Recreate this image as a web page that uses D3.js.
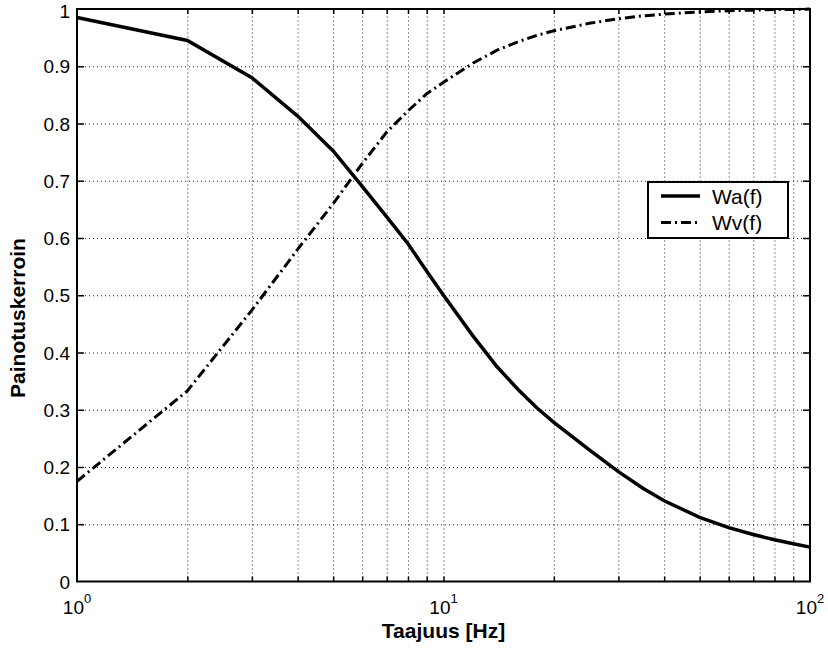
<!DOCTYPE html>
<meta charset="utf-8">
<head>
<style>
  body { margin: 0; background: #fff; }
  text { font-family: "Liberation Sans", Arial, sans-serif; fill: #000; }
  .grid line { stroke: #222; stroke-width: 1; stroke-dasharray: 1,3; }
  .grid path { display: none; }
</style>
</head>
<body>
  <script src="https://d3js.org/d3.v7.min.js"></script>
  <script>
    // frequencies [Hz] and the two weighting curves
    var freqs = [1, 2, 3, 4, 5, 6, 7, 8, 9, 10, 12, 14, 16, 18, 20, 25, 30, 35, 40, 50, 60, 70, 80, 90, 100];
    var wa = [0.985, 0.945, 0.88, 0.813, 0.752, 0.69, 0.637, 0.59, 0.542, 0.5, 0.43, 0.375, 0.335, 0.303, 0.278, 0.23, 0.192, 0.163, 0.141, 0.112, 0.094, 0.082, 0.073, 0.066, 0.06];
    var wv = [0.175, 0.333, 0.474, 0.58, 0.66, 0.73, 0.785, 0.822, 0.852, 0.872, 0.905, 0.928, 0.943, 0.954, 0.962, 0.975, 0.983, 0.988, 0.991, 0.995, 0.997, 0.998, 0.999, 0.999, 1.0];

    var seriesNames = ["Wa(f)", "Wv(f)"];
    var yTicks = [0, 0.1, 0.2, 0.3, 0.4, 0.5, 0.6, 0.7, 0.8, 0.9, 1];
    var yTickLabels = ["0", "0.1", "0.2", "0.3", "0.4", "0.5", "0.6", "0.7", "0.8", "0.9", "1"];
    var xMajor = [1, 10, 100];
    var xMajorExp = ["0", "1", "2"];
    var xLabel = "Taajuus [Hz]";
    var yLabel = "Painotuskerroin";

    var width = 828, height = 651;
    var margin = { top: 9, right: 18, bottom: 69.5, left: 77 };
    var w = width - margin.left - margin.right,
      h = height - margin.top - margin.bottom;

    var svg = d3.select("body").append("svg")
      .attr("width", width)
      .attr("height", height);

    svg.append("rect").attr("width", width).attr("height", height).attr("fill", "#fff");

    var g = svg.append("g")
      .attr("transform", "translate(" + margin.left + "," + margin.top + ")");

    var x = d3.scaleLog().domain([1, 100]).range([0, w]);
    var y = d3.scaleLinear().domain([0, 1]).range([h, 0]);

    // all log ticks 1..9 per decade
    var xAll = [];
    [1, 10].forEach(function (dec) {
      for (var k = 1; k <= 9; k++) xAll.push(dec * k);
    });
    xAll.push(100);
    var xInner = xAll.filter(function (v) { return v > 1 && v < 100; });
    var yInner = yTicks.filter(function (v) { return v > 0 && v < 1; });

    // dotted grid
    g.append("g").attr("class", "grid")
      .attr("transform", "translate(0," + h + ")")
      .call(d3.axisBottom(x).tickValues(xInner).tickSize(-h).tickFormat(""));
    g.append("g").attr("class", "grid")
      .call(d3.axisLeft(y).tickValues(yInner).tickSize(-w).tickFormat(""));

    // inward ticks on all four sides
    function tickStyle(sel) {
      sel.select(".domain").remove();
      sel.selectAll("line").attr("stroke", "#000").attr("stroke-width", 1.5);
    }
    g.append("g").attr("transform", "translate(0," + h + ")")
      .call(d3.axisBottom(x).tickValues(xInner).tickSize(-5).tickFormat(""))
      .call(tickStyle);
    g.append("g")
      .call(d3.axisTop(x).tickValues(xInner).tickSize(-5).tickFormat(""))
      .call(tickStyle);
    g.append("g")
      .call(d3.axisLeft(y).tickValues(yInner).tickSize(-7).tickFormat(""))
      .call(tickStyle);
    g.append("g").attr("transform", "translate(" + w + ",0)")
      .call(d3.axisRight(y).tickValues(yInner).tickSize(-7).tickFormat(""))
      .call(tickStyle);

    // y tick labels (top one kept inside the page)
    g.selectAll(".ylab")
      .data(yTicks)
      .enter().append("text")
      .attr("class", "ylab")
      .attr("x", -7)
      .attr("y", function (d) { return Math.max(y(d) + 7, 9); })
      .attr("text-anchor", "end")
      .style("font-size", "19px")
      .text(function (d, i) { return yTickLabels[i]; });

    // x tick labels 10^n
    var xl = g.selectAll(".xlab")
      .data(xMajor)
      .enter().append("text")
      .attr("class", "xlab")
      .attr("x", function (d) { return x(d); })
      .attr("y", h + 32)
      .attr("text-anchor", "middle")
      .style("font-size", "19px");
    xl.append("tspan").text("10");
    xl.append("tspan")
      .attr("dy", -11)
      .style("font-size", "13px")
      .text(function (d, i) { return xMajorExp[i]; });

    // axis labels
    svg.append("text")
      .attr("x", margin.left + w / 2)
      .attr("y", 638)
      .attr("text-anchor", "middle")
      .style("font-size", "21px")
      .style("font-weight", "bold")
      .text(xLabel);

    svg.append("text")
      .attr("transform", "translate(25," + 318 + ") rotate(-90)")
      .attr("text-anchor", "middle")
      .style("font-size", "21px")
      .style("font-weight", "bold")
      .text(yLabel);

    // curves
    var line = d3.line()
      .x(function (d) { return x(d[0]); })
      .y(function (d) { return y(d[1]); });

    var dashes = [null, "10,4,2,4"];
    [wa, wv].forEach(function (vals, s) {
      g.append("path")
        .datum(freqs.map(function (f, i) { return [f, vals[i]]; }))
        .attr("fill", "none")
        .attr("stroke", "#000")
        .attr("stroke-width", s === 0 ? 3.5 : 3)
        .attr("stroke-dasharray", dashes[s])
        .attr("d", line);
    });

    // axes box
    g.append("rect")
      .attr("width", w).attr("height", h)
      .attr("fill", "none")
      .attr("stroke", "#000")
      .attr("stroke-width", 2);

    // legend
    var lg = svg.append("g").attr("transform", "translate(648,182)");
    lg.append("rect")
      .attr("width", 140).attr("height", 56)
      .attr("fill", "#fff")
      .attr("stroke", "#000")
      .attr("stroke-width", 2);
    seriesNames.forEach(function (name, s) {
      var yy = 14 + s * 26.5;
      lg.append("line")
        .attr("x1", 13).attr("x2", 52)
        .attr("y1", yy).attr("y2", yy)
        .attr("stroke", "#000")
        .attr("stroke-width", s === 0 ? 3.5 : 3)
        .attr("stroke-dasharray", dashes[s]);
      lg.append("text")
        .attr("x", 64)
        .attr("y", yy + 7.5)
        .style("font-size", "21px")
        .text(name);
    });
  </script>
</body>
